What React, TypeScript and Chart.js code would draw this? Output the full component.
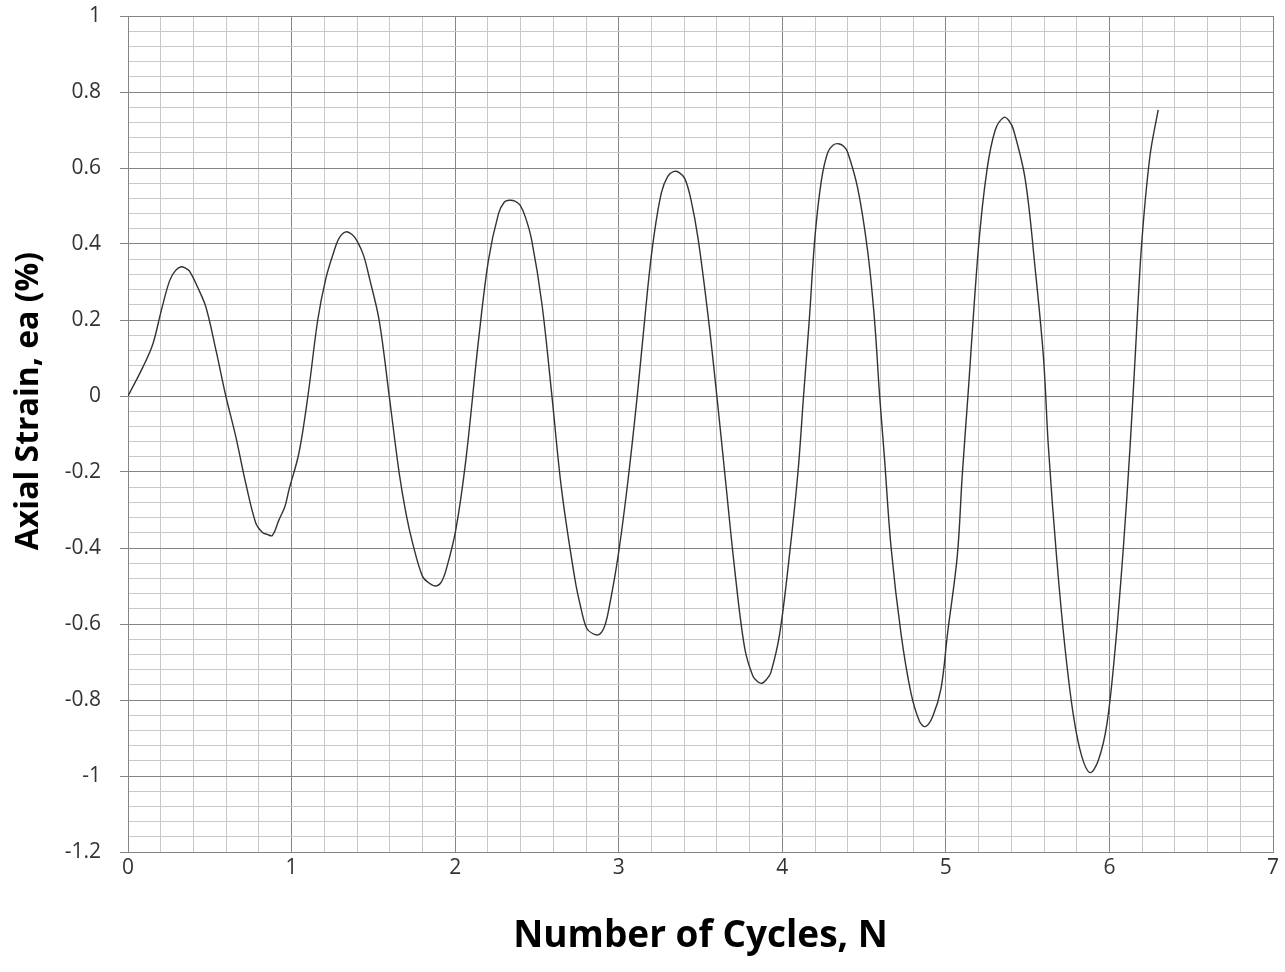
import React, { useEffect, useRef } from "react";
import { Chart, registerables } from "chart.js";

Chart.register(...registerables);

// Number of cycles (x) and axial strain (y, %)
const cycles: number[] = [
  0, 0.091, 0.152, 0.203, 0.254, 0.29, 0.325, 0.35, 0.375, 0.426, 0.477, 0.538, 0.598, 0.659, 0.72, 0.781,
  0.822, 0.85, 0.882, 0.923, 0.96, 0.984, 1.045, 1.1, 1.16, 1.21, 1.255, 1.29, 1.332, 1.37, 1.4, 1.44,
  1.475, 1.536, 1.597, 1.658, 1.7, 1.74, 1.8, 1.84, 1.884, 1.915, 1.945, 2.004, 2.065, 2.143, 2.204,
  2.265, 2.3, 2.33, 2.365, 2.397, 2.43, 2.468, 2.53, 2.59, 2.651, 2.733, 2.77, 2.804, 2.84, 2.879, 2.91,
  2.935, 2.996, 3.057, 3.118, 3.179, 3.215, 3.261, 3.3, 3.338, 3.37, 3.404, 3.44, 3.485, 3.546, 3.6,
  3.65, 3.71, 3.77, 3.82, 3.85, 3.876, 3.905, 3.93, 3.984, 4.045, 4.096, 4.13, 4.165, 4.2, 4.24, 4.278,
  4.31, 4.343, 4.375, 4.4, 4.461, 4.522, 4.563, 4.594, 4.624, 4.665, 4.726, 4.787, 4.838, 4.874, 4.919,
  4.97, 5.01, 5.07, 5.1, 5.135, 5.2, 5.251, 5.302, 5.353, 5.385, 5.414, 5.485, 5.546, 5.597, 5.627,
  5.678, 5.729, 5.78, 5.83, 5.881, 5.932, 5.984, 6.035, 6.086, 6.126, 6.157, 6.196, 6.247, 6.298,
];

const strain: number[] = [
  0, 0.076, 0.137, 0.224, 0.303, 0.33, 0.34, 0.337, 0.329, 0.286, 0.233, 0.12, 0, -0.107, -0.23, -0.334,
  -0.359, -0.364, -0.367, -0.326, -0.29, -0.247, -0.15, 0, 0.2, 0.31, 0.375, 0.415, 0.432, 0.425, 0.408, 0.37,
  0.312, 0.198, 0, -0.203, -0.31, -0.387, -0.474, -0.492, -0.5, -0.49, -0.457, -0.352, -0.17, 0.147, 0.358,
  0.48, 0.51, 0.515, 0.513, 0.502, 0.47, 0.41, 0.244, 0.007, -0.247, -0.484, -0.56, -0.611, -0.625, -0.628, -0.61,
  -0.571, -0.422, -0.221, 0.02, 0.29, 0.42, 0.535, 0.578, 0.591, 0.588, 0.572, 0.52, 0.415, 0.212, 0,
  -0.21, -0.46, -0.663, -0.737, -0.752, -0.756, -0.745, -0.728, -0.626, -0.414, -0.2, 0, 0.2, 0.42, 0.57, 0.641,
  0.66, 0.664, 0.657, 0.641, 0.547, 0.381, 0.205, 0.007, -0.159, -0.398, -0.626, -0.782, -0.855, -0.87, -0.844,
  -0.771, -0.626, -0.42, -0.21, 0, 0.394, 0.594, 0.7, 0.733, 0.725, 0.7, 0.571, 0.335, 0.1, -0.135,
  -0.429, -0.665, -0.841, -0.947, -0.991, -0.959, -0.865, -0.665, -0.394, -0.135, 0.1, 0.394, 0.629, 0.753,
];

const xTickLabels: string[] = ["0", "1", "2", "3", "4", "5", "6", "7"];
const yTickLabels: string[] = ["-1.2", "-1", "-0.8", "-0.6", "-0.4", "-0.2", "0", "0.2", "0.4", "0.6", "0.8", "1"];

const xTitle = "Number of Cycles, N";
const yTitle = "Axial Strain, ea (%)";

const MAJOR = "#858585";
const MINOR = "#c8c8c8";

const isMultiple = (v: number, step: number) => Math.abs(v / step - Math.round(v / step)) < 1e-6;

const yTitlePlugin = {
  id: "yTitlePlugin",
  afterDraw(chart: any) {
    const ctx = chart.ctx;
    ctx.save();
    ctx.translate(29, 401);
    ctx.rotate(-Math.PI / 2);
    ctx.font = "bold 32px 'Open Sans'";
    ctx.fillStyle = "#000";
    ctx.textAlign = "center";
    ctx.textBaseline = "middle";
    ctx.fillText(yTitle, 0, 0);
    ctx.restore();
  },
};

export default function App() {
  const canvasRef = useRef<HTMLCanvasElement | null>(null);

  useEffect(() => {
    if (!canvasRef.current) return;
    const data = cycles.map((c, i) => ({ x: c, y: strain[i] }));
    const chart = new Chart(canvasRef.current, {
      type: "line",
      data: {
        datasets: [
          {
            data,
            borderColor: "#333333",
            borderWidth: 1.4,
            pointRadius: 0,
            fill: false,
            tension: 0.35,
          },
        ],
      },
      plugins: [yTitlePlugin],
      options: {
        animation: false,
        responsive: true,
        maintainAspectRatio: false,
        layout: { padding: { left: 0, right: 12, top: 16, bottom: 0 } },
        plugins: { legend: { display: false }, tooltip: { enabled: false } },
        scales: {
          x: {
            type: "linear",
            min: 0,
            max: 7,
            afterFit: (s: any) => {
              s.height = 120;
              s.paddingLeft = 0;
              s.paddingRight = 0;
            },
            border: { display: true, color: MAJOR, width: 1 },
            grid: {
              drawTicks: false,
              color: (ctx: any) => (isMultiple(ctx.tick.value, 1) ? MAJOR : MINOR),
              lineWidth: 1,
            },
            ticks: {
              stepSize: 0.2,
              autoSkip: false,
              maxRotation: 0,
              padding: 3,
              color: "#333",
              font: { family: "'Open Sans'", size: 21 },
              callback: (v: any) => {
                const n = Number(v);
                if (!isMultiple(n, 1)) return "";
                const idx = Math.round(n);
                return xTickLabels[idx] ?? String(idx);
              },
            },
            title: {
              display: true,
              text: xTitle,
              color: "#000",
              font: { family: "'Open Sans'", size: 37, weight: "bold" },
              padding: { top: 0, bottom: 13 },
            },
          },
          y: {
            type: "linear",
            min: -1.2,
            max: 1,
            afterFit: (s: any) => {
              s.width = 128;
              s.paddingTop = 0;
              s.paddingBottom = 0;
            },
            border: { display: true, color: MAJOR, width: 1 },
            grid: {
              drawTicks: true,
              tickLength: 8,
              color: (ctx: any) => (isMultiple(ctx.tick.value, 0.2) ? MAJOR : MINOR),
              tickColor: (ctx: any) => (ctx.tick && isMultiple(ctx.tick.value, 0.2) ? MAJOR : "rgba(0,0,0,0)"),
              lineWidth: 1,
            },
            ticks: {
              stepSize: 0.04,
              autoSkip: false,
              maxTicksLimit: 1000,
              padding: 19,
              color: "#333",
              font: { family: "'Open Sans'", size: 21 },
              callback: (v: any) => {
                const n = Number(v);
                if (!isMultiple(n, 0.2)) return "";
                const idx = Math.round((n + 1.2) / 0.2);
                return yTickLabels[idx] ?? "";
              },
            },
          },
        },
      },
    });
    return () => chart.destroy();
  }, []);

  return (
    <div style={{ position: "absolute", left: 0, top: 0, width: 1285, height: 972, background: "#fff" }}>
      <canvas ref={canvasRef} />
    </div>
  );
}
